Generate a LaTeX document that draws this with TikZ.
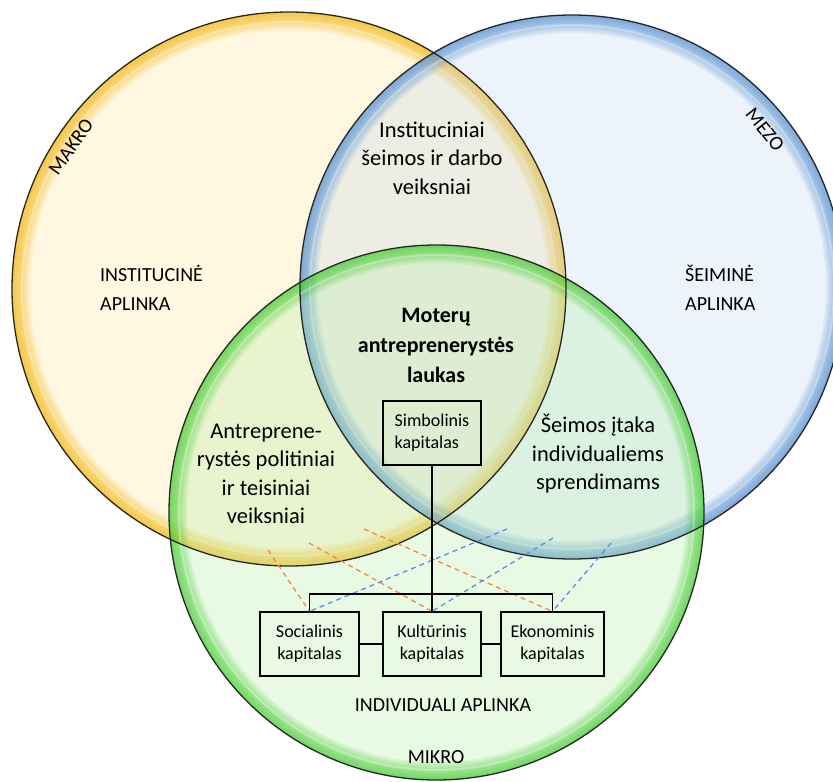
\documentclass[tikz,border=0pt]{standalone}
\usepackage{fontspec}
\setmainfont{Carlito}
\definecolor{yfill}{HTML}{FFE9A8}
\definecolor{yring}{HTML}{F5B400}
\definecolor{bfill}{HTML}{C5D8F0}
\definecolor{bring}{HTML}{4A8BD0}
\definecolor{gfill}{HTML}{B8F0A8}
\definecolor{gring}{HTML}{3CCB28}
\definecolor{dorange}{HTML}{F08A3C}
\definecolor{dblue}{HTML}{5B8FE0}
\begin{document}
\begin{tikzpicture}[x=1pt,y=-1pt,
  body/.style={align=center, inner sep=0pt, font=\fontsize{22.5}{28.5}\selectfont},
  boldtxt/.style={align=center, inner sep=0pt, font=\bfseries\fontsize{22}{30}\selectfont},
  caps/.style={inner sep=0pt, font=\fontsize{20}{29}\selectfont},
  capbox/.style={draw=black, line width=1.2pt, minimum width=98pt, minimum height=64pt, inner sep=2pt, align=center, font=\fontsize{18}{22}\selectfont},
  conn/.style={draw=black, line width=1.2pt},
  dashO/.style={dorange, line width=1.3pt, dash pattern=on 5pt off 4pt},
  dashB/.style={dblue, line width=1.3pt, dash pattern=on 5pt off 4pt},
  outline/.style={draw=black!85, line width=1.3pt}
]
\useasboundingbox (0,0) rectangle (833,782);
\fill[white] (0,0) rectangle (833,782);

% circle centres
\coordinate (cy) at (289,289);
\coordinate (cb) at (572,287);
\coordinate (cg) at (436.5,512.5);

% yellow bubble
\fill[yfill, fill opacity=0.35] (cy) circle[radius=277pt];
\foreach \w in {2,4,...,18} {
  \draw[yring, draw opacity=0.11, line width=\w pt] (cy) circle[radius={(277-\w/2)*1pt}];
}
\draw[white, draw opacity=0.3, line width=2pt] (cy) circle[radius=267pt];

% blue bubble
\fill[bfill, fill opacity=0.3] (cb) circle[radius=272pt];
\foreach \w in {2,4,...,18} {
  \draw[bring, draw opacity=0.11, line width=\w pt] (cb) circle[radius={(272-\w/2)*1pt}];
}
\draw[white, draw opacity=0.3, line width=2pt] (cb) circle[radius=262pt];

% green bubble
\fill[gfill, fill opacity=0.3] (cg) circle[radius=267.5pt];
\foreach \w in {2,4,...,18} {
  \draw[gring, draw opacity=0.11, line width=\w pt] (cg) circle[radius={(267.5-\w/2)*1pt}];
}
\draw[white, draw opacity=0.3, line width=2pt] (cg) circle[radius=257.5pt];

% outlines
\draw[outline] (cy) circle[radius=277pt];
\draw[outline] (cb) circle[radius=272pt];
\draw[outline] (cg) circle[radius=267.5pt];

% labels
\node[caps, rotate=55] (makro) at (71,147) {MAKRO};
\node[caps, rotate=-51] (mezo) at (765,130) {MEZO};
\node[body] (inst) at (432,158) {Instituciniai\\šeimos ir darbo\\veiksniai};
\node[caps, anchor=west, align=left] (instapl) at (100,288) {INSTITUCINĖ\\APLINKA};
\node[caps, anchor=west, align=left] (seimapl) at (685,288) {ŠEIMINĖ\\APLINKA};
\node[boldtxt] (moteru) at (436,345) {Moterų\\antreprenerystės\\laukas};
\node[body] (antr) at (266,474) {Antreprene-\\rystės politiniai\\ir teisiniai\\veiksniai};
\node[body] (seimitaka) at (598,454) {Šeimos įtaka\\individualiems\\sprendimams};
\node[caps] (indiv) at (443,705) {INDIVIDUALI APLINKA};
\node[caps] (mikro) at (436,757) {MIKRO};

% boxes
\node[capbox, align=left] (simb) at (432,433) {Simbolinis\\kapitalas};
\node[capbox, minimum width=99pt] (soc) at (309.5,644) {Socialinis\\kapitalas};
\node[capbox] (kult) at (432,644) {Kultūrinis\\kapitalas};
\node[capbox, minimum width=103pt] (eko) at (552.5,644) {Ekonominis\\kapitalas};

% dashed influence lines
\coordinate (o1) at (268,550);
\coordinate (o2) at (309,543);
\coordinate (o3) at (364,529);
\coordinate (b1) at (507,529);
\coordinate (b2) at (553,538);
\coordinate (b3) at (611,543);
\draw[dashO] (o1) -- (soc.north);
\draw[dashO] (o2) -- (kult.north);
\draw[dashO] (o3) -- (eko.north);
\draw[dashB] (b1) -- (soc.north);
\draw[dashB] (b2) -- (kult.north);
\draw[dashB] (b3) -- (eko.north);

% tree connectors
\coordinate (bus) at (432,594);
\draw[conn] (simb.south) -- (kult.north);
\draw[conn] (soc.north) |- (bus) -| (eko.north);
\draw[conn] (soc.east) -- (kult.west);
\draw[conn] (kult.east) -- (eko.west);
\end{tikzpicture}
\end{document}
